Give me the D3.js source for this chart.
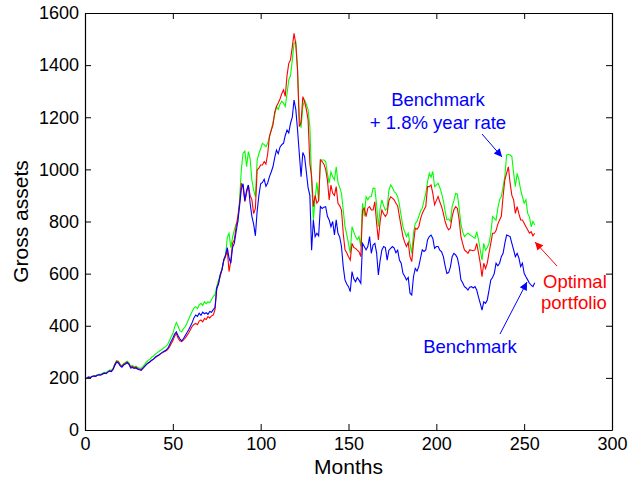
<!DOCTYPE html>
<html>
<head>
<meta charset="utf-8">
<script src="https://cdn.jsdelivr.net/npm/d3@7"></script>
<style>
  body { margin: 0; background: #fff; }
  text { font-family: "Liberation Sans", Arial, Helvetica, sans-serif; }
</style>
</head>
<body>
<div class="chart"></div>
<script>
// Gross assets per month
var benchmark = [
  200,203,201,205,207,206,210,212,211,215,218,216,222,226,224,232,248,260,257,246,
  241,249,253,258,252,238,240,236,238,233,231,229,236,244,252,257,262,268,272,279,
  284,288,293,298,302,306,312,325,340,352,368,377,362,350,342,350,362,373,385,398,
  412,430,441,436,448,440,452,446,450,444,455,452,462,470,545,560,598,615,655,672,
  700,660,640,700,716,760,800,860,925,945,880,920,940,870,820,790,745,840,900,945,
  950,962,935,948,972,990,1010,1045,1074,1060,1085,1095,1100,1130,1151,1140,1177,1200,1266,1230,
  1151,1060,972,1065,1049,990,930,900,690,806,742,755,745,857,850,855,857,820,806,780,
  800,748,806,755,740,704,627,576,560,550,531,608,580,569,585,575,563,716,704,691,
  704,742,678,710,716,680,595,650,691,704,700,652,690,697,704,698,680,690,652,640,
  601,590,576,585,525,518,588,620,610,627,660,691,685,691,729,742,748,735,697,704,
  704,690,684,665,630,601,604,625,665,678,672,660,627,576,565,550,545,537,548,550,
  545,550,537,510,486,460,492,486,499,537,576,585,601,640,630,640,665,678,716,748,
  745,742,716,691,665,678,660,627,640,601,588,576,563,556,550,565
];
var optimal = [
  200,202,201,204,207,206,210,212,211,215,218,217,223,227,226,234,252,264,262,250,
  244,252,256,261,254,242,244,239,241,236,234,232,238,245,252,257,262,268,272,278,
  283,287,292,296,300,303,308,318,330,342,360,370,352,342,339,345,352,362,372,385,
  398,405,409,404,418,422,415,428,424,435,430,438,441,462,540,565,590,615,650,665,
  691,608,650,716,730,780,820,870,947,930,876,910,940,900,883,830,850,998,1005,1017,
  1017,1030,1020,1060,1126,1150,1170,1220,1241,1255,1270,1290,1305,1280,1360,1407,1420,1470,1522,1480,
  1381,1164,1180,1279,1260,1230,1190,1023,972,857,900,870,880,1036,1030,1020,1000,959,883,940,
  908,900,934,870,860,844,755,691,680,665,652,716,700,697,690,684,665,844,851,819,
  851,857,844,844,876,793,729,800,844,830,819,830,880,895,890,883,870,860,819,780,
  742,720,704,720,665,646,716,774,770,780,810,831,845,857,934,934,940,908,864,880,
  896,875,857,831,800,780,768,775,819,845,857,850,806,742,715,691,685,678,691,690,
  688,691,716,680,640,588,640,620,640,680,716,755,755,765,790,806,820,896,960,985,
  1010,947,900,883,831,857,830,806,806,793,780,768,755,761,745,755
];
var benchmarkRate = [
  200,203,202,206,208,208,212,214,214,218,221,220,226,230,229,238,254,266,264,252,
  247,255,259,264,258,245,247,243,245,240,238,237,244,252,261,267,272,279,284,291,
  296,301,306,311,316,321,328,341,357,370,395,412,398,380,377,388,396,410,425,440,
  455,468,473,466,480,486,478,492,485,492,488,500,512,520,550,575,595,620,650,665,
  740,755,700,740,768,790,800,883,1000,1062,1070,1010,1068,1040,959,920,895,1036,1060,1080,
  1100,1095,1087,1100,1126,1150,1180,1210,1241,1230,1250,1262,1254,1241,1290,1343,1360,1420,1484,1490,
  1381,1200,1160,1241,1266,1250,1228,1164,960,806,890,950,880,1036,1036,1036,1030,985,947,990,
  972,960,1010,950,930,908,844,780,750,716,678,780,760,742,730,742,704,870,820,895,
  883,895,896,928,927,864,780,850,883,860,844,850,920,940,930,915,908,895,864,820,
  780,760,742,755,716,678,755,793,800,819,840,851,880,908,953,985,970,992,934,940,
  947,930,908,880,840,806,810,800,857,880,908,905,851,790,760,742,750,755,750,745,
  740,735,761,730,691,652,716,690,700,716,755,819,812,805,850,883,896,934,972,1055,
  1058,1055,1049,985,934,985,960,921,895,870,883,831,818,780,800,787
];
var months = d3.range(1, benchmark.length + 1);

var xTicks = [0, 50, 100, 150, 200, 250, 300];
var yTicks = [0, 200, 400, 600, 800, 1000, 1200, 1400, 1600];

var svgWidth = 642;
var svgHeight = 481;
var margin = { top: 13, right: 30, bottom: 51, left: 85 };
var width = svgWidth - margin.left - margin.right;
var height = svgHeight - margin.top - margin.bottom;

var svg = d3.select(".chart")
  .append("svg")
  .attr("width", svgWidth)
  .attr("height", svgHeight);

var chartGroup = svg.append("g")
  .attr("transform", `translate(${margin.left}, ${margin.top})`);

var xScale = d3.scaleLinear().domain([0, 300]).range([0, width]);
var yScale = d3.scaleLinear().domain([0, 1600]).range([height, 0]);

// axes with inward ticks on all four sides (matlab box)
function styleAxis(g) {
  g.select(".domain").attr("stroke", "#000").attr("stroke-width", 1.2);
  g.selectAll(".tick line").attr("stroke", "#000").attr("stroke-width", 1);
  g.selectAll(".tick text")
    .attr("fill", "#000")
    .style("font-size", "18px")
    .style("font-family", "'Liberation Sans', Arial, sans-serif");
}

chartGroup.append("g")
  .attr("transform", `translate(0, ${height})`)
  .call(d3.axisBottom(xScale).tickValues(xTicks).tickFormat(d3.format("d"))
    .tickSize(-6).tickPadding(7).tickSizeOuter(0))
  .call(styleAxis);

chartGroup.append("g")
  .call(d3.axisLeft(yScale).tickValues(yTicks).tickFormat(d3.format("d"))
    .tickSize(-6).tickPadding(6).tickSizeOuter(0))
  .call(styleAxis);

chartGroup.append("g")
  .call(d3.axisTop(xScale).tickValues(xTicks).tickSize(-6).tickFormat("").tickSizeOuter(0))
  .call(styleAxis);

chartGroup.append("g")
  .attr("transform", `translate(${width}, 0)`)
  .call(d3.axisRight(yScale).tickValues(yTicks).tickSize(-6).tickFormat("").tickSizeOuter(0))
  .call(styleAxis);

// Lines
var series = [
  { values: benchmarkRate, color: "#00ff00" },
  { values: optimal, color: "#ff0000" },
  { values: benchmark, color: "#0000ff" }
];

var line = d3.line()
  .x((d, i) => xScale(months[i]))
  .y(d => yScale(d));

series.forEach(function (s) {
  chartGroup.append("path")
    .datum(s.values)
    .attr("fill", "none")
    .attr("stroke", s.color)
    .attr("stroke-width", 1.1)
    .attr("d", line);
});

// Arrows
var defs = svg.append("defs");
["#0000ff", "#ff0000"].forEach(function (c, i) {
  defs.append("marker")
    .attr("id", "arrow" + i)
    .attr("viewBox", "0 0 10 10")
    .attr("refX", 10)
    .attr("refY", 5)
    .attr("markerWidth", 11)
    .attr("markerHeight", 8)
    .attr("markerUnits", "userSpaceOnUse")
    .attr("orient", "auto")
    .append("path")
    .attr("d", "M0,0 L10,5 L0,10 Z")
    .attr("fill", c);
});

var arrows = [
  { from: [482, 134], to: [502, 157], color: "#0000ff", m: 0 },
  { from: [557, 266], to: [535, 242], color: "#ff0000", m: 1 },
  { from: [500, 334], to: [527, 282], color: "#0000ff", m: 0 }
];
arrows.forEach(function (a) {
  svg.append("line")
    .attr("x1", a.from[0]).attr("y1", a.from[1])
    .attr("x2", a.to[0]).attr("y2", a.to[1])
    .attr("stroke", a.color)
    .attr("stroke-width", 1)
    .attr("marker-end", `url(#arrow${a.m})`);
});

// Annotation texts
var notes = [
  { text: "Benchmark", x: 438, y: 106, color: "#0000ff", anchor: "middle" },
  { text: "+ 1.8% year rate", x: 438, y: 129, color: "#0000ff", anchor: "middle" },
  { text: "Optimal", x: 543, y: 288, color: "#ff0000", anchor: "start" },
  { text: "portfolio", x: 541, y: 309, color: "#ff0000", anchor: "start" },
  { text: "Benchmark", x: 470, y: 353, color: "#0000ff", anchor: "middle" }
];
notes.forEach(function (n) {
  svg.append("text")
    .attr("x", n.x)
    .attr("y", n.y)
    .attr("text-anchor", n.anchor)
    .attr("fill", n.color)
    .style("font-size", "18.5px")
    .text(n.text);
});

// Axis labels
svg.append("text")
  .attr("transform", `translate(28, ${margin.top + height / 2}) rotate(-90)`)
  .attr("text-anchor", "middle")
  .style("font-size", "21px")
  .text("Gross assets");

svg.append("text")
  .attr("x", margin.left + width / 2)
  .attr("y", 474)
  .attr("text-anchor", "middle")
  .style("font-size", "21px")
  .text("Months");
</script>
</body>
</html>
